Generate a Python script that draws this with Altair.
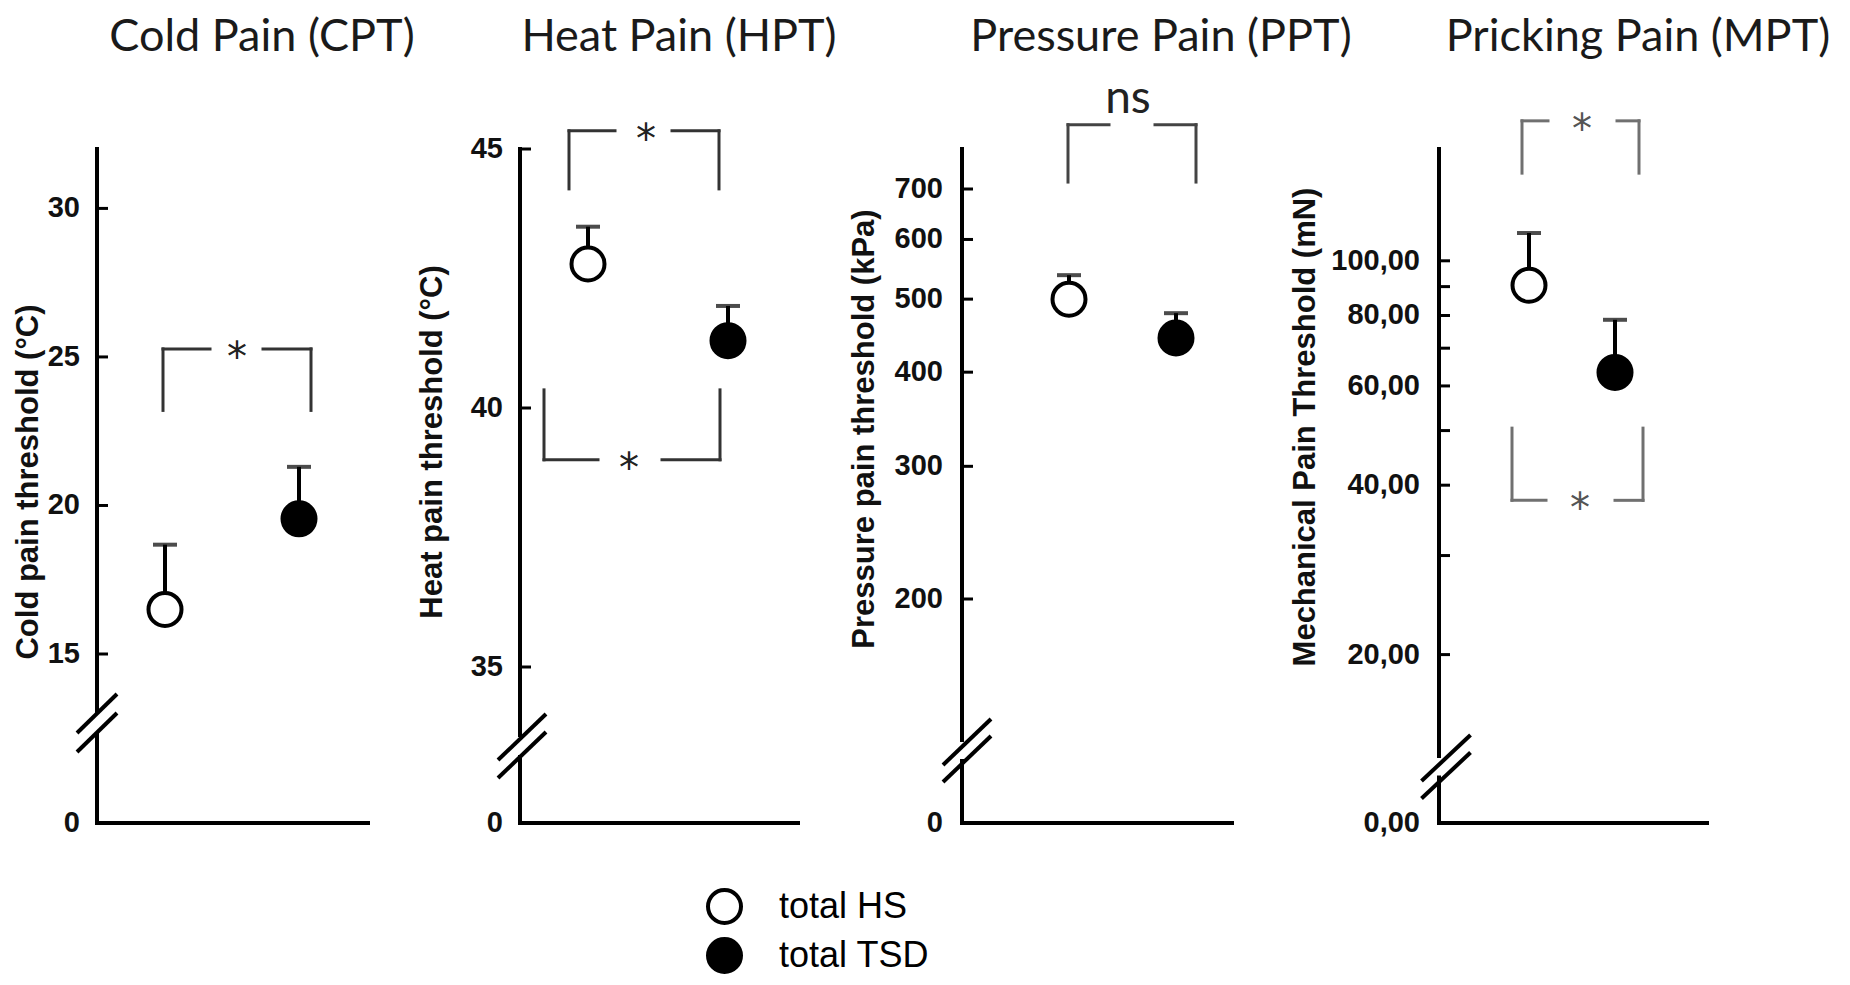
import altair as alt
import pandas as pd

# ---------------- data ----------------
GROUPS = ["total HS", "total TSD"]

CPT_MEAN = [16.5, 19.55]
CPT_UPPER = [18.68, 21.3]
HPT_MEAN = [42.78, 41.3]
HPT_UPPER = [43.5, 41.97]
PPT_MEAN = [500, 444]
PPT_UPPER = [538, 479]
MPT_MEAN = [90.5, 63.4]
MPT_UPPER = [112, 78.6]

TITLES = ["Cold Pain (CPT)", "Heat Pain (HPT)", "Pressure Pain (PPT)", "Pricking Pain (MPT)"]
YTITLES = ["Cold pain threshold (°C)", "Heat pain threshold (°C)",
           "Pressure pain threshold (kPa)", "Mechanical Pain Threshold (mN)"]

CPT_LABELS = [0, 15, 20, 25, 30]
CPT_TICKS = [15, 20, 25, 30]
HPT_LABELS = [0, 35, 40, 45]
HPT_TICKS = [35, 40, 45]
PPT_LABELS = [0, 200, 300, 400, 500, 600, 700]
PPT_TICKS = [200, 300, 400, 500, 600, 700]
MPT_LABELS = [0, 20, 40, 60, 80, 100]
MPT_TICKS = [20, 30, 40, 50, 60, 70, 80, 90, 100]

SIG_CPT = ["*"]
SIG_HPT = ["*", "*"]
SIG_PPT = ["ns"]
SIG_MPT = ["*", "*"]


def fmt_int(v):
    return str(int(v))


def fmt_comma(v):
    return f"{v:.2f}".replace(".", ",")


# ---------------- layout / style ----------------
H = 955
TITLE_FONT = "Lato"
SANS = "Liberation Sans"
STAR_FONT = "DejaVu Sans"

PANELS = [
    dict(title=TITLES[0], ytitle=YTITLES[0], mean=CPT_MEAN, upper=CPT_UPPER,
         labels=CPT_LABELS, ticks=CPT_TICKS, sig=SIG_CPT, fmt=fmt_int,
         width=402, ax=89, xend=360, xr=[157, 291],
         stype="linear", domain=[0, 15, 32], range=[815, 646, 141],
         pad=17, ytx=21, yty=474, tcx=254,
         brackets=[dict(yb=25.27, ye=23.2, xl=155, xr=303, gl=202, gr=255, lx=229)],
         brk=dict(cx=89, o=(-109.5, -90.5), dx=20, dy=19.5),
         bcolor="#333333", scolor="#222222"),
    dict(title=TITLES[1], ytitle=YTITLES[1], mean=HPT_MEAN, upper=HPT_UPPER,
         labels=HPT_LABELS, ticks=HPT_TICKS, sig=SIG_HPT, fmt=fmt_int,
         width=430, ax=110, xend=388, xr=[178, 318],
         stype="linear", domain=[0, 35, 45], range=[815, 659, 141],
         pad=17, ytx=23, yty=434, tcx=269,
         brackets=[dict(yb=45.35, ye=44.23, xl=159, xr=309, gl=205, gr=262, lx=236),
                   dict(yb=39.0, ye=40.35, xl=134, xr=310, gl=188, gr=252, lx=219)],
         brk=dict(cx=112, o=(-86, -68), dx=24, dy=23),
         bcolor="#333333", scolor="#222222"),
    dict(title=TITLES[2], ytitle=YTITLES[2], mean=PPT_MEAN, upper=PPT_UPPER,
         labels=PPT_LABELS, ticks=PPT_TICKS, sig=SIG_PPT, fmt=fmt_int,
         width=440, ax=122, xend=392, xr=[229, 336],
         stype="symlog", domain=[0, 200, 791], range=[815, 591, 141],
         pad=19, ytx=25, yty=421, tcx=321,
         brackets=[dict(yb=852, ye=715, xl=228, xr=356, gl=269, gr=315, lx=288)],
         brk=dict(cx=127, o=(-81, -64), dx=24, dy=23),
         bcolor="#444444", scolor="#222222"),
    dict(title=TITLES[3], ytitle=YTITLES[3], mean=MPT_MEAN, upper=MPT_UPPER,
         labels=MPT_LABELS, ticks=MPT_TICKS, sig=SIG_MPT, fmt=fmt_comma,
         width=562, ax=159, xend=427, xr=[249, 335],
         stype="symlog", domain=[0, 20, 157.8], range=[815, 646.6, 141],
         pad=19, ytx=26, yty=419, tcx=358,
         brackets=[dict(yb=177, ye=143, xl=242, xr=359, gl=268, gr=337, lx=302),
                   dict(yb=37.6, ye=50.5, xl=232, xr=363, gl=266, gr=335, lx=300)],
         brk=dict(cx=166, o=(-65, -47.5), dx=24.5, dy=23),
         bcolor="#707070", scolor="#555555"),
]

LEGEND = alt.Legend(orient="none", legendX=698, legendY=880, title=None,
                    symbolType="circle", symbolSize=1089, symbolStrokeWidth=4,
                    symbolStrokeColor="black", labelFont=SANS, labelFontSize=36,
                    labelColor="black", labelOffset=36, rowPadding=0, padding=0,
                    labelLimit=400)

one = pd.DataFrame({"k": [0]})


def panel(p):
    ysc = dict(type=p["stype"], domain=p["domain"], range=p["range"], nice=False, zero=False)
    if p["stype"] == "symlog":
        ysc["constant"] = 0.1
    yscale = alt.Scale(**ysc)
    xscale = alt.Scale(type="point", domain=GROUPS, range=p["xr"], padding=0)
    X = alt.X("group:N", scale=xscale, axis=None)

    df = pd.DataFrame({"group": GROUPS, "mean": p["mean"], "upper": p["upper"]})
    ax = p["ax"]
    top = p["domain"][-1]
    layers = []
    base = alt.Chart(df)

    # y axis line and x axis line
    layers.append(alt.Chart(one).mark_rule(strokeWidth=4, color="black", strokeCap="square").encode(
        x=alt.value(ax), y=alt.YDatum(0, axis=None, scale=yscale), y2=alt.Y2Datum(top)))
    layers.append(alt.Chart(one).mark_rule(strokeWidth=4, color="black", strokeCap="square").encode(
        x=alt.value(ax), x2=alt.value(p["xend"]), y=alt.YDatum(0, axis=None)))
    # inward ticks
    layers.append(alt.Chart(pd.DataFrame({"t": p["ticks"]})).mark_rule(strokeWidth=3, color="black").encode(
        x=alt.value(ax), x2=alt.value(ax + 11), y=alt.Y("t:Q", axis=None)))
    # tick labels
    lab = pd.DataFrame({"v": p["labels"], "txt": [p["fmt"](v) for v in p["labels"]]})
    layers.append(alt.Chart(lab).mark_text(font=SANS, fontWeight="bold", fontSize=29, color="#111111",
                                           align="right", baseline="middle").encode(
        x=alt.value(ax - p["pad"]), y=alt.Y("v:Q", axis=None), text="txt:N"))
    # axis break
    b = p["brk"]
    layers.append(alt.Chart(one).mark_rule(strokeWidth=10, color="white",
                                           yOffset=b["o"][0], y2Offset=b["o"][1]).encode(
        x=alt.value(ax), y=alt.YDatum(0, axis=None), y2=alt.Y2Datum(0)))
    for o in b["o"]:
        layers.append(alt.Chart(one).mark_rule(strokeWidth=4, color="black",
                                               yOffset=o + b["dy"], y2Offset=o - b["dy"]).encode(
            x=alt.value(b["cx"] - b["dx"]), x2=alt.value(b["cx"] + b["dx"]),
            y=alt.YDatum(0, axis=None), y2=alt.Y2Datum(0)))
    # significance brackets
    for br, txt in zip(p["brackets"], p["sig"]):
        rk = dict(strokeWidth=3, color=p["bcolor"], strokeCap="square")
        layers.append(alt.Chart(one).mark_rule(**rk).encode(
            x=alt.value(br["xl"]), x2=alt.value(br["gl"]), y=alt.YDatum(br["yb"], axis=None)))
        layers.append(alt.Chart(one).mark_rule(**rk).encode(
            x=alt.value(br["gr"]), x2=alt.value(br["xr"]), y=alt.YDatum(br["yb"], axis=None)))
        for xx in (br["xl"], br["xr"]):
            layers.append(alt.Chart(one).mark_rule(**rk).encode(
                x=alt.value(xx), y=alt.YDatum(br["yb"], axis=None), y2=alt.Y2Datum(br["ye"])))
        if txt == "*":
            layers.append(alt.Chart(one).mark_text(font=STAR_FONT, fontSize=40, color=p["scolor"],
                                                   align="center", baseline="alphabetic", dy=22).encode(
                x=alt.value(br["lx"]), y=alt.YDatum(br["yb"], axis=None), text=alt.value(txt)))
        else:
            layers.append(alt.Chart(one).mark_text(font=TITLE_FONT, fontSize=46, color="#222222",
                                                   align="center", baseline="alphabetic", dy=-12).encode(
                x=alt.value(br["lx"]), y=alt.YDatum(br["yb"], axis=None), text=alt.value(txt)))
    # panel title and y title
    layers.append(alt.Chart(one).mark_text(font=TITLE_FONT, fontSize=45, color="#1a1a1a",
                                           align="center", baseline="alphabetic").encode(
        x=alt.value(p["tcx"]), y=alt.value(43), text=alt.value(p["title"])))
    layers.append(alt.Chart(one).mark_text(font=SANS, fontSize=31, fontWeight="bold", color="#111111",
                                           angle=270, align="center", baseline="middle").encode(
        x=alt.value(p["ytx"]), y=alt.value(p["yty"]), text=alt.value(p["ytitle"])))
    # error bars, caps, points
    layers.append(base.mark_rule(strokeWidth=4, color="black").encode(
        x=X, y=alt.Y("mean:Q", axis=None), y2="upper:Q"))
    layers.append(base.mark_tick(thickness=4, size=24, color="black").encode(
        x=X, y=alt.Y("upper:Q", axis=None)))
    layers.append(base.mark_point(shape="circle", filled=True, size=1089, stroke="black",
                                  strokeWidth=4, opacity=1).encode(
        x=X, y=alt.Y("mean:Q", axis=None),
        fill=alt.Fill("group:N", scale=alt.Scale(domain=GROUPS, range=["white", "black"]),
                      legend=LEGEND)))
    return alt.layer(*layers).properties(width=p["width"], height=H)


chart = alt.hconcat(*[panel(p) for p in PANELS], spacing=0, bounds="flush").resolve_scale(
    x="independent", y="independent").properties(padding=0).configure_view(stroke=None)

chart.save("out.html", embed_options={"renderer": "svg", "actions": False})
